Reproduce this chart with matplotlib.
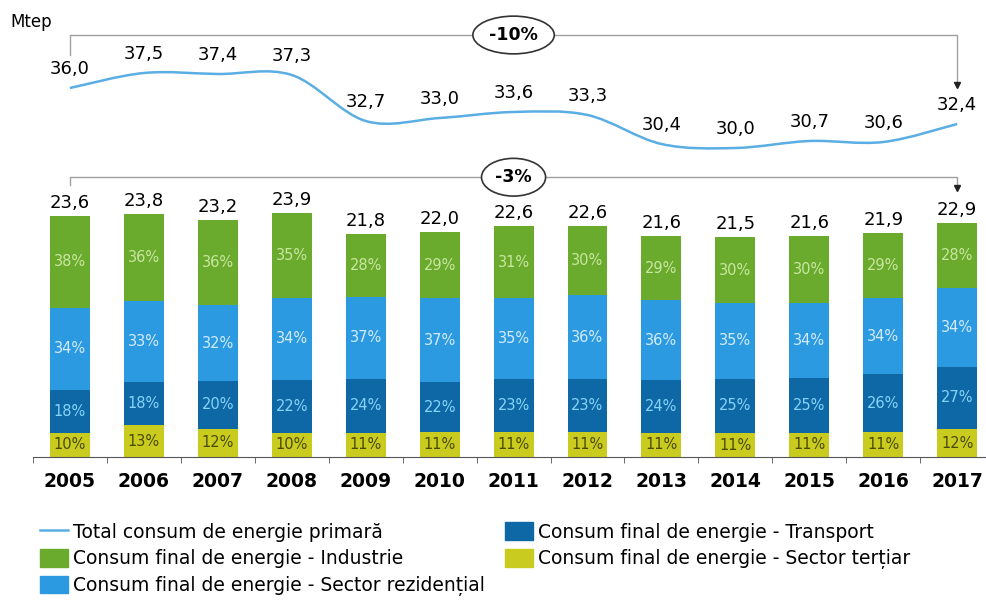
import numpy as np
import matplotlib.pyplot as plt
from matplotlib.path import Path
from matplotlib.patches import PathPatch, Patch
from matplotlib.lines import Line2D

years = ["2005", "2006", "2007", "2008", "2009", "2010", "2011",
         "2012", "2013", "2014", "2015", "2016", "2017"]
primary_total = [36.0, 37.5, 37.4, 37.3, 32.7, 33.0, 33.6, 33.3, 30.4, 30.0, 30.7, 30.6, 32.4]
final_total = [23.6, 23.8, 23.2, 23.9, 21.8, 22.0, 22.6, 22.6, 21.6, 21.5, 21.6, 21.9, 22.9]
# shares of final consumption (%), bottom to top
pct_tertiar = [10, 13, 12, 10, 11, 11, 11, 11, 11, 11, 11, 11, 12]
pct_transport = [18, 18, 20, 22, 24, 22, 23, 23, 24, 25, 25, 26, 27]
pct_rezidential = [34, 33, 32, 34, 37, 37, 35, 36, 36, 35, 34, 34, 34]
pct_industrie = [38, 36, 36, 35, 28, 29, 31, 30, 29, 30, 30, 29, 28]

labels = ["Total consum de energie primară",
          "Consum final de energie - Industrie",
          "Consum final de energie - Sector rezidențial",
          "Consum final de energie - Transport",
          "Consum final de energie - Sector terțiar"]

c_line = "#5aaee3"
c_ind = "#6aaa2c"
c_rez = "#2c9ae0"
c_tra = "#0e68a6"
c_ter = "#c9cc1e"
txt_cols = {"ind": "#c8e7a0", "rez": "#d2ebff", "tra": "#86d4fa", "ter": "#4a4a08"}

W, H = 986, 602


def px_rect(left, top, right, bottom):
    return [left / W, 1 - bottom / H, (right - left) / W, (bottom - top) / H]


def comma(v):
    return f"{v:.1f}".replace(".", ",")


fig = plt.figure(figsize=(W / 100, H / 100), dpi=100)
plt.rcParams["font.family"] = ["DejaVu Sans"]

x = np.arange(len(years))
xlim = (-0.5, 12.39)

# ---- bars ----
ax = fig.add_axes(px_rect(33, 200, 986, 457))
ax.set_xlim(*xlim)
ax.set_ylim(0, 25.17)
ax.patch.set_alpha(0)

tot_pct = np.array(pct_tertiar) + np.array(pct_transport) + np.array(pct_rezidential) + np.array(pct_industrie)
tot = np.array(final_total)
bottom = np.zeros(len(years))
for pct, col, key in [(pct_tertiar, c_ter, "ter"), (pct_transport, c_tra, "tra"),
                      (pct_rezidential, c_rez, "rez"), (pct_industrie, c_ind, "ind")]:
    h = tot * np.array(pct) / tot_pct
    ax.bar(x, h, bottom=bottom, width=0.54, color=col, linewidth=0)
    for i in range(len(years)):
        ax.text(x[i], bottom[i] + h[i] / 2, f"{pct[i]}%", ha="center", va="center",
                fontsize=10.5, color=txt_cols[key])
    bottom = bottom + h

for i, v in enumerate(final_total):
    ax.annotate(comma(v), (x[i], v), xytext=(0, 3), textcoords="offset points",
                ha="center", va="bottom", fontsize=13)

for s in ["top", "right", "left"]:
    ax.spines[s].set_visible(False)
ax.spines["bottom"].set_color("#555555")
ax.set_yticks([])
ax.set_xticks(x)
ax.set_xticklabels(years, fontsize=13.5, fontweight="bold")
ax.set_xticks(np.arange(-0.5, 12.5, 1), minor=True)
ax.tick_params(axis="x", which="major", length=0, pad=11)
ax.tick_params(axis="x", which="minor", length=4, color="#555555")

# -3% bracket
ax.plot([0, 0, 12, 12], [26.6, 27.4, 27.4, 26.3], color="#a0a0a0", lw=1, clip_on=False)
ax.plot(12, 26.3, marker="v", color="#222222", ms=5, clip_on=False)
ax.text(6, 27.4, "-3%", ha="center", va="center", fontsize=12.5, fontweight="bold",
        bbox=dict(boxstyle="ellipse,pad=0.25", fc="white", ec="#333333", lw=1.2))

# ---- primary energy line ----
axl = fig.add_axes(px_rect(33, 60, 986, 160))
axl.set_xlim(*xlim)
axl.set_ylim(28.8, 38.8)
axl.axis("off")

pts = np.column_stack([x, primary_total]).astype(float)
ext = np.vstack([pts[0], pts, pts[-1]])
verts = [pts[0]]
codes = [Path.MOVETO]
for i in range(len(pts) - 1):
    p0, p1, p2, p3 = ext[i], ext[i + 1], ext[i + 2], ext[i + 3]
    verts += [p1 + (p2 - p0) / 6, p2 - (p3 - p1) / 6, p2]
    codes += [Path.CURVE4] * 3
axl.add_patch(PathPatch(Path(verts, codes), fc="none", ec=c_line, lw=1.8))

for i, v in enumerate(primary_total):
    axl.annotate(comma(v), (x[i], v), xytext=(0, 7), textcoords="offset points",
                 ha="center", va="bottom", fontsize=13)

# -10% bracket
axl.plot([0, 0, 12, 12], [39.3, 41.3, 41.3, 36.4], color="#a0a0a0", lw=1, clip_on=False)
axl.plot(12, 36.3, marker="v", color="#222222", ms=5, clip_on=False)
axl.text(6, 41.3, "-10%", ha="center", va="center", fontsize=12.5, fontweight="bold",
         bbox=dict(boxstyle="ellipse,pad=0.25", fc="white", ec="#333333", lw=1.2))

fig.text(10 / W, 1 - 22 / H, "Mtep", ha="left", va="center", fontsize=12)

# ---- legend ----
handles = [Line2D([], [], color=c_line, lw=1.8),
           Patch(color=c_ind), Patch(color=c_rez), Patch(color=c_tra), Patch(color=c_ter)]
fig.legend(handles, labels, ncol=2, loc="upper left", bbox_to_anchor=(31 / W, 1 - 513 / H),
           frameon=False, fontsize=13.5, handlelength=1.45, handleheight=1.07,
           handletextpad=0.3, columnspacing=1.08, labelspacing=0.4, borderpad=0)

fig.savefig("out.png", dpi=100)
